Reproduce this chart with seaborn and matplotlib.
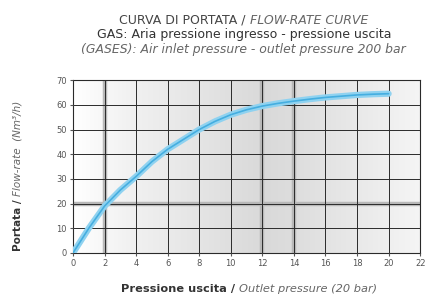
import matplotlib
matplotlib.use("Agg")
import matplotlib.pyplot as plt
import seaborn as sns
import numpy as np
import pandas as pd
from matplotlib.colors import LinearSegmentedColormap
from matplotlib.offsetbox import TextArea, HPacker, AnnotationBbox

# Flow-rate curve
outlet_pressure = [0, 1, 2, 3, 4, 5, 6, 7, 8, 9, 10, 11, 12, 13, 14, 15, 16, 17, 18, 19, 20]
flow_rate = [0, 10, 19, 25.5, 31, 37, 42, 46, 50, 53.3, 56, 58, 59.5, 60.6, 61.5, 62.3, 63, 63.5, 64, 64.3, 64.5]
x_ticks = list(range(0, 23, 2))
y_ticks = list(range(0, 71, 10))

df = pd.DataFrame({"pressure": outlet_pressure, "flow": flow_rate})

sns.set_style("white")
fig = plt.figure(figsize=(4.27, 2.99), dpi=100)
ax = fig.add_axes([0.171, 0.154, 0.813, 0.578])

# horizontal grey shading behind the grid
shade = LinearSegmentedColormap.from_list(
    "shade", [(0.0, "#ffffff"), (0.15, "#f2f2f2"), (0.55, "#d9d9d9"),
              (0.65, "#dedede"), (1.0, "#f5f5f5")])
grad = np.linspace(0, 1, 256).reshape(1, -1)
ax.imshow(grad, extent=[0, 22, 0, 70], aspect="auto", cmap=shade, zorder=0)

ax.set_xlim(0, 22)
ax.set_ylim(0, 70)
ax.set_xticks(x_ticks)
ax.set_yticks(y_ticks)
ax.grid(True, color="#2a2a2a", linewidth=0.7, zorder=1)
ax.set_axisbelow(False)
# a few wider soft grey bands seen in the reference
ax.axhline(20, color="#b8b8b8", linewidth=3.2, zorder=0.5)
for xv in (2, 12, 14):
    ax.axvline(xv, color="#b8b8b8", linewidth=3.2, zorder=0.5)

sns.lineplot(data=df, x="pressure", y="flow", ax=ax, color="#8fd2f0",
             linewidth=4.5, zorder=3)
sns.lineplot(data=df, x="pressure", y="flow", ax=ax, color="#45aee0",
             linewidth=1.2, zorder=4)

for s in ax.spines.values():
    s.set_color("#2a2a2a")
    s.set_linewidth(0.8)
ax.tick_params(axis="both", labelsize=6, colors="#555555", length=2.5,
               width=0.8, pad=2, bottom=True, left=True)
ax.set_xlabel("")
ax.set_ylabel("")

# titles (mixed upright / italic parts)
def mixed_line(parts, y, size):
    boxes = [TextArea(t, textprops=dict(fontsize=size, color=c, style=st))
             for t, st, c in parts]
    pack = HPacker(children=boxes, align="baseline", pad=0, sep=0)
    ab = AnnotationBbox(pack, (0.571, y), xycoords="figure fraction",
                        frameon=False, box_alignment=(0.5, 0.5), pad=0)
    fig.add_artist(ab)

mixed_line([("CURVA DI PORTATA / ", "normal", "#444444"),
            ("FLOW-RATE CURVE", "italic", "#666666")], 0.933, 9.0)
mixed_line([("GAS: Aria pressione ingresso - pressione uscita", "normal", "#333333")],
           0.884, 9.0)
mixed_line([("(GASES): Air inlet pressure - outlet pressure 200 bar", "italic", "#666666")],
           0.836, 8.9)

# x label
fig.text(0.559, 0.032, "Pressione uscita / ", ha="right", va="center",
         fontsize=8.2, weight="bold", color="#333333")
fig.text(0.559, 0.032, "Outlet pressure (20 bar)", ha="left", va="center",
         fontsize=8.2, style="italic", color="#666666")

# y label
fig.text(0.042, 0.345, "Portata / ", rotation=90, rotation_mode="anchor",
         ha="right", va="center", fontsize=7.5, weight="bold", color="#333333")
fig.text(0.042, 0.345, "Flow-rate  (Nm³/h)", rotation=90, rotation_mode="anchor",
         ha="left", va="center", fontsize=7.5, style="italic", color="#666666")

fig.savefig("out.png", dpi=100)
